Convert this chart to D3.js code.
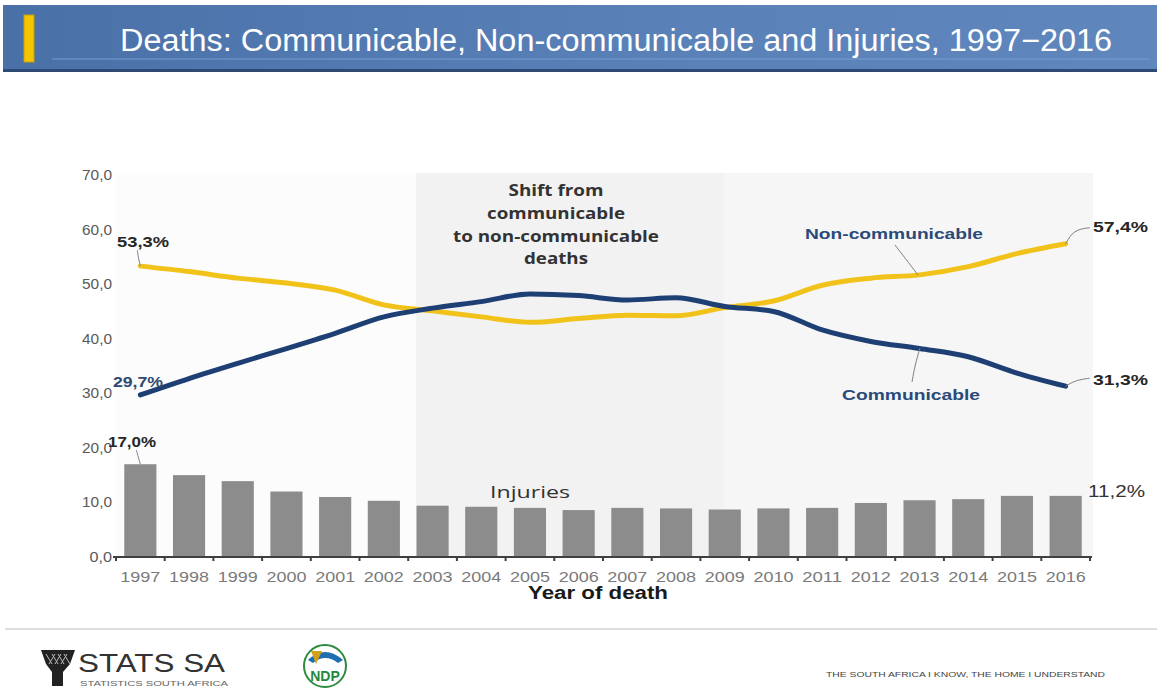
<!DOCTYPE html>
<html>
<head>
<meta charset="utf-8">
<script src="https://cdn.jsdelivr.net/npm/d3@7"></script>
<style>
  html, body { margin: 0; padding: 0; background: #fff; }
  svg { display: block; }
</style>
</head>
<body>
<svg id="chart" width="1157" height="688"></svg>
<script>
const years = ["1997","1998","1999","2000","2001","2002","2003","2004","2005","2006","2007","2008","2009","2010","2011","2012","2013","2014","2015","2016"];
const nonCommunicable = [53.3, 52.3, 51.1, 50.2, 48.9, 46.2, 45.1, 44.0, 43.0, 43.7, 44.3, 44.2, 45.7, 46.9, 49.8, 51.1, 51.7, 53.2, 55.6, 57.4];
const communicable    = [29.7, 32.7, 35.5, 38.2, 41.0, 44.0, 45.6, 46.8, 48.2, 47.9, 47.1, 47.5, 45.9, 45.0, 41.6, 39.5, 38.2, 36.7, 33.7, 31.3];
const injuries        = [17.0, 15.0, 13.9, 12.0, 11.0, 10.3, 9.4, 9.2, 9.0, 8.6, 9.0, 8.9, 8.7, 8.9, 9.0, 9.9, 10.4, 10.6, 11.2, 11.2];
const yTicks = [0, 10, 20, 30, 40, 50, 60, 70];
const title = "Deaths: Communicable, Non-communicable and Injuries, 1997\u22122016";
const shiftText = ["Shift from", "communicable", "to non-communicable", "deaths"];

const svg = d3.select("#chart");
const fmt = v => d3.format(".1f")(v).replace(".", ",");
const SANS = "Liberation Sans, Arial, sans-serif";
const fit = (sel, w) => sel.attr("textLength", w).attr("lengthAdjust", "spacingAndGlyphs");

// ---------- Header ----------
const defs = svg.append("defs");
const hg = defs.append("linearGradient").attr("id", "hdr").attr("x1", 0).attr("x2", 1).attr("y1", 0).attr("y2", 0);
hg.append("stop").attr("offset", "0%").attr("stop-color", "#4a70a8");
hg.append("stop").attr("offset", "60%").attr("stop-color", "#5a82b9");
hg.append("stop").attr("offset", "100%").attr("stop-color", "#5f87bd");
svg.append("rect").attr("x", 3).attr("y", 5).attr("width", 1154).attr("height", 66).attr("fill", "url(#hdr)");
svg.append("rect").attr("x", 3).attr("y", 69).attr("width", 1154).attr("height", 3).attr("fill", "#2c4a74");
svg.append("line").attr("x1", 52).attr("x2", 1150).attr("y1", 59).attr("y2", 59).attr("stroke", "#7d9cc8").attr("stroke-width", 1);
svg.append("rect").attr("x", 24).attr("y", 15).attr("width", 10).attr("height", 47).attr("fill", "#f6c500").attr("stroke", "#c9a000").attr("stroke-width", 1);
fit(svg.append("text").attr("x", 120).attr("y", 51).attr("fill", "#ffffff")
  .attr("font-family", SANS).attr("font-size", 31).text(title), 992);

// ---------- Scales ----------
const pLeft = 116, pRight = 1090, pTop = 173, pBottom = 557;
const x = d3.scaleBand().domain(years).range([pLeft, pRight]).paddingInner(0.34).paddingOuter(0.17);
const y = d3.scaleLinear().domain([0, 70]).range([pBottom, 175]);
const bw = x.bandwidth();
const step = x.step();
const cx = d => x(d) + bw / 2;
const edge = d => x(d) - step * 0.17;

// ---------- Background panels ----------
svg.append("rect").attr("x", pLeft).attr("y", pTop).attr("width", edge("2003") + 8 - pLeft).attr("height", pBottom - pTop).attr("fill", "#fcfcfc");
svg.append("rect").attr("x", edge("2003") + 8).attr("y", pTop).attr("width", cx("2009") - edge("2003") - 8).attr("height", pBottom - pTop).attr("fill", "#f2f2f2");
svg.append("rect").attr("x", cx("2009")).attr("y", pTop).attr("width", pRight + 3 - cx("2009")).attr("height", pBottom - pTop).attr("fill", "#f6f6f6");

// ---------- Y axis labels ----------
svg.append("g").selectAll("text").data(yTicks).join("text")
  .attr("x", 112).attr("y", d => y(d) + 5).attr("text-anchor", "end")
  .attr("font-family", SANS).attr("font-size", 14.5).attr("fill", "#595959")
  .attr("textLength", d => fmt(d).length * 7.5).attr("lengthAdjust", "spacingAndGlyphs")
  .text(d => fmt(d));

// ---------- Bars ----------
svg.append("g").selectAll("rect").data(years).join("rect")
  .attr("x", d => x(d)).attr("width", bw)
  .attr("y", (d, i) => y(injuries[i])).attr("height", (d, i) => pBottom - y(injuries[i]))
  .attr("fill", "#8c8c8c");

// ---------- X axis ----------
const xa = svg.append("g");
xa.append("line").attr("x1", pLeft - 3).attr("x2", pRight + 2).attr("y1", pBottom).attr("y2", pBottom).attr("stroke", "#3f3f3f").attr("stroke-width", 2);
xa.selectAll("line.tk").data(years.concat(["end"])).join("line").attr("class", "tk")
  .attr("x1", (d, i) => i < years.length ? edge(d) : pRight).attr("x2", (d, i) => i < years.length ? edge(d) : pRight)
  .attr("y1", pBottom).attr("y2", pBottom + 4).attr("stroke", "#3f3f3f").attr("stroke-width", 2);
xa.selectAll("text").data(years).join("text")
  .attr("x", d => cx(d)).attr("y", 582).attr("text-anchor", "middle")
  .attr("font-family", SANS).attr("font-size", 14).attr("fill", "#7a7a7a")
  .attr("textLength", 40).attr("lengthAdjust", "spacingAndGlyphs")
  .text(d => d);
fit(svg.append("text").attr("x", 598).attr("y", 599).attr("text-anchor", "middle")
  .attr("font-family", SANS).attr("font-weight", "bold").attr("font-size", 17.5).attr("fill", "#1a1a1a")
  .text("Year of death"), 140);

// ---------- Lines ----------
const line = d3.line().x(d => cx(d.year)).y(d => y(d.v)).curve(d3.curveMonotoneX);
const ncData = years.map((yr, i) => ({year: yr, v: nonCommunicable[i]}));
const cData = years.map((yr, i) => ({year: yr, v: communicable[i]}));
svg.append("path").datum(ncData).attr("d", line).attr("fill", "none").attr("stroke", "#f1c31a").attr("stroke-width", 5).attr("stroke-linecap", "round");
svg.append("path").datum(cData).attr("d", line).attr("fill", "none").attr("stroke", "#1e3f73").attr("stroke-width", 5).attr("stroke-linecap", "round");

// ---------- Annotations ----------
const lbl = (tx, ty, t, w, opt = {}) => fit(svg.append("text").attr("x", tx).attr("y", ty)
  .attr("text-anchor", opt.anchor || "start")
  .attr("font-family", opt.family || SANS)
  .attr("font-weight", opt.weight || "bold").attr("font-size", opt.size || 14)
  .attr("fill", opt.fill || "#262626").text(t), w);
const leader = (pts) => svg.append("path").attr("d", d3.line().curve(d3.curveBasis)(pts))
  .attr("fill", "none").attr("stroke", "#7f7f7f").attr("stroke-width", 1);

const first = years[0], last = years[years.length - 1];
const nL = nonCommunicable.length - 1;
leader([[cx(first), y(nonCommunicable[0])], [cx(first) - 2, y(nonCommunicable[0]) - 8], [cx(first) - 3, y(nonCommunicable[0]) - 16]]);
lbl(117, 247, fmt(nonCommunicable[0]) + "%", 52);
lbl(113, 387, fmt(communicable[0]) + "%", 50, {fill: "#2f4a70"});
leader([[cx(first), y(injuries[0])], [cx(first) - 2, y(injuries[0]) - 7], [cx(first) - 4, y(injuries[0]) - 14]]);
lbl(108, 447, fmt(injuries[0]) + "%", 48);

leader([[cx(last), y(nonCommunicable[nL])], [cx(last) + 8, y(nonCommunicable[nL]) - 14], [cx(last) + 24, y(nonCommunicable[nL]) - 16]]);
lbl(1093, 232, fmt(nonCommunicable[nL]) + "%", 55);
leader([[cx(last), y(communicable[nL])], [cx(last) + 10, y(communicable[nL]) - 6], [cx(last) + 24, y(communicable[nL]) - 8]]);
lbl(1093, 385, fmt(communicable[nL]) + "%", 55);
lbl(1088, 497, fmt(injuries[nL]) + "%", 57, {weight: "normal", size: 16, fill: "#333"});

// series labels
leader([[895, 245], [905, 258], [918, 275]]);
lbl(894, 239, "Non-communicable", 178, {anchor: "middle", fill: "#2a4a7a", size: 15});
leader([[912, 382], [915, 365], [920, 348]]);
lbl(911, 400, "Communicable", 138, {anchor: "middle", fill: "#2a4a7a", size: 15});

const shiftW = [95, 138, 206, 64];
const shiftY = [196, 219, 242, 264];
svg.append("g").selectAll("text").data(shiftText).join("text")
  .attr("x", 556).attr("y", (d, i) => shiftY[i]).attr("text-anchor", "middle")
  .attr("font-family", "Open Sans, sans-serif").attr("font-weight", "bold").attr("font-size", 15.5)
  .attr("fill", "#333").attr("textLength", (d, i) => shiftW[i]).attr("lengthAdjust", "spacingAndGlyphs").text(d => d);

lbl(530, 498, "Injuries", 80, {anchor: "middle", weight: "normal", size: 17, family: "Open Sans, sans-serif", fill: "#333"});

// ---------- Footer ----------
svg.append("line").attr("x1", 5).attr("x2", 1157).attr("y1", 629).attr("y2", 629).attr("stroke", "#d0d4d6").attr("stroke-width", 1.5);
// Stats SA drum logo
svg.append("path").attr("d", "M41,650 L75,650 L70,664 L63,672 L63,686 L52,686 L52,672 L46,664 Z").attr("fill", "#222");
svg.append("path").attr("d", "M46,654 L52,664 M52,654 L58,664 M58,654 L64,664 M64,654 L70,664 M49,664 L55,654 M55,664 L61,654 M61,664 L67,654")
  .attr("stroke", "#bbb").attr("stroke-width", 1).attr("fill", "none");
fit(svg.append("text").attr("x", 78).attr("y", 672).attr("font-family", SANS).attr("font-size", 25).attr("fill", "#333").text("STATS SA"), 147);
fit(svg.append("text").attr("x", 80).attr("y", 686).attr("font-family", SANS).attr("font-size", 7.5).attr("fill", "#666").text("STATISTICS SOUTH AFRICA"), 148);
// NDP logo
svg.append("circle").attr("cx", 325).attr("cy", 666).attr("r", 21).attr("fill", "#fff").attr("stroke", "#2e8b3e").attr("stroke-width", 2);
svg.append("path").attr("d", "M308,660 Q325,644 343,660 L338,663 Q325,653 313,663 Z").attr("fill", "#1f6fb0");
svg.append("path").attr("d", "M311,651 L322,651 L316,664 Z").attr("fill", "#d4a017");
svg.append("text").attr("x", 325).attr("y", 681).attr("text-anchor", "middle").attr("font-family", SANS).attr("font-weight", "bold").attr("font-size", 14).attr("fill", "#1e8a3a").text("NDP");
fit(svg.append("text").attr("x", 826).attr("y", 677).attr("font-family", SANS).attr("font-size", 8).attr("fill", "#444").text("THE SOUTH AFRICA I KNOW, THE HOME I UNDERSTAND"), 279);
</script>
</body>
</html>
